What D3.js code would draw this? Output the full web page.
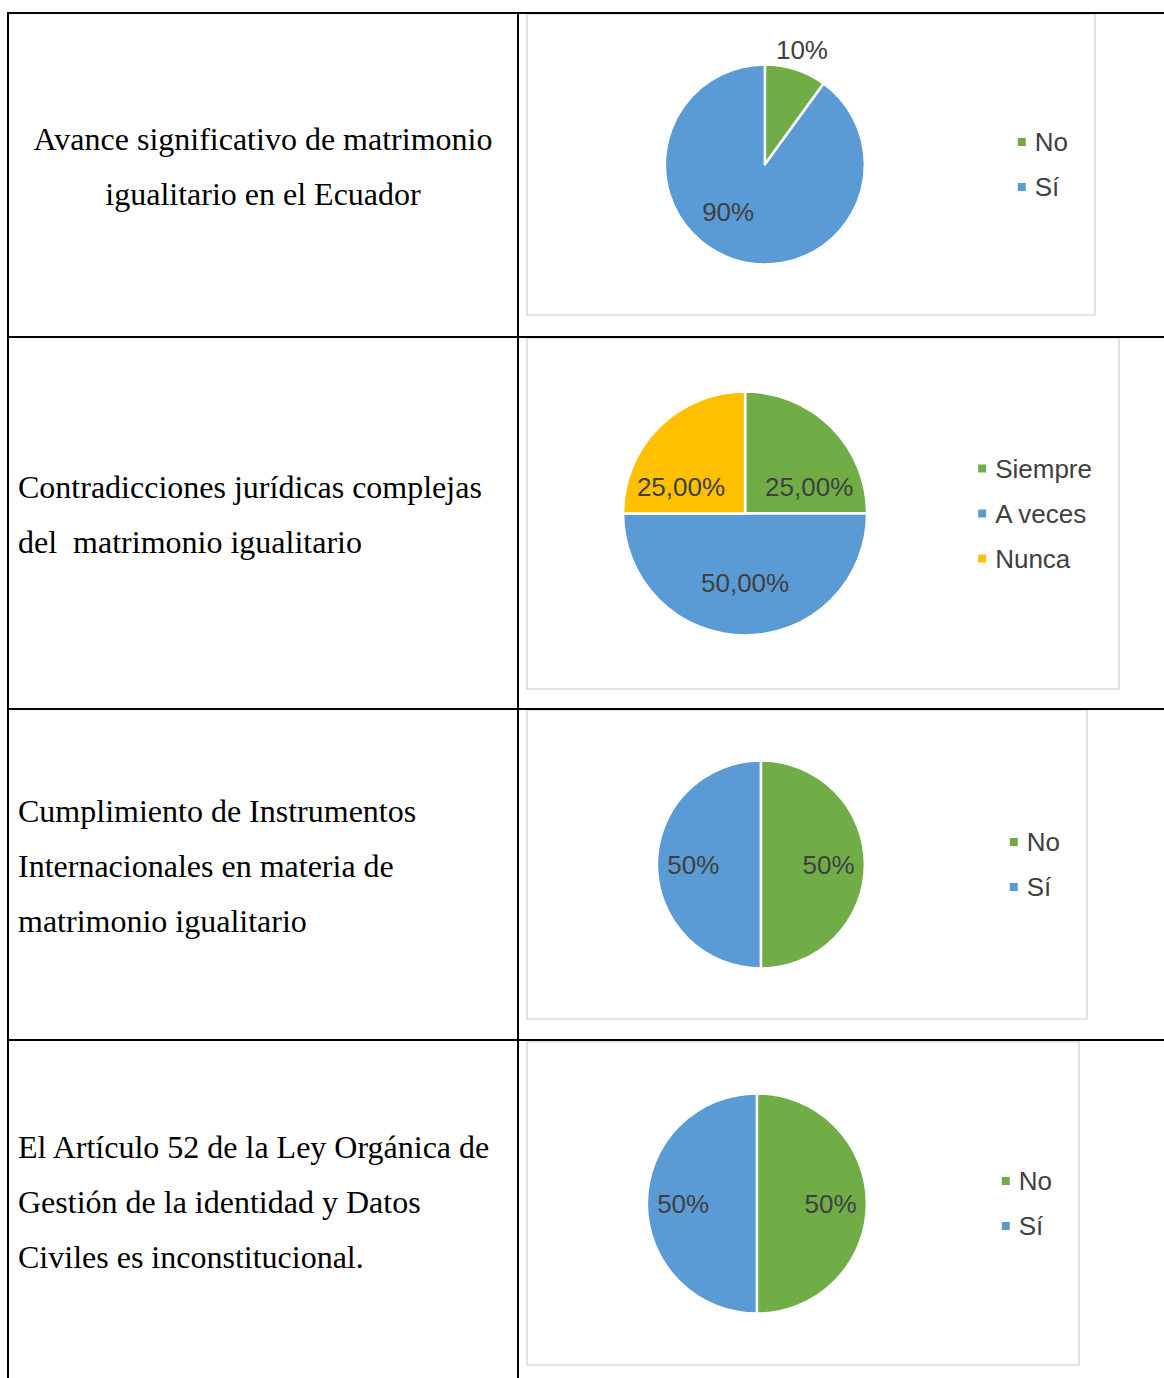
<!DOCTYPE html>
<html>
<head>
<meta charset="utf-8">
<script src="https://cdn.jsdelivr.net/npm/d3@7"></script>
<style>
  body { margin: 0; background: #fff; }
  svg { display: block; }
</style>
</head>
<body>
<div class="js-table"></div>
<script>
(function() {
  'use strict';

  /* ------------------------------------------------------------ *\
      Data: row questions and survey answers
  \* ------------------------------------------------------------ */

  var rowTitles = [
    ['Avance significativo de matrimonio', 'igualitario en el Ecuador'],
    ['Contradicciones jurídicas complejas', 'del  matrimonio igualitario'],
    ['Cumplimiento de Instrumentos', 'Internacionales en materia de', 'matrimonio igualitario'],
    ['El Artículo 52 de la Ley Orgánica de', 'Gestión de la identidad y Datos', 'Civiles es inconstitucional.']
  ];

  var chart1Categories = ['No', 'Sí'];
  var chart1Values = [10, 90];

  var chart2Categories = ['Siempre', 'A veces', 'Nunca'];
  var chart2Values = [25, 50, 25];

  var chart3Categories = ['No', 'Sí'];
  var chart3Values = [50, 50];

  var chart4Categories = ['No', 'Sí'];
  var chart4Values = [50, 50];

  /* ------------------------------------------------------------ *\
      Some colours
  \* ------------------------------------------------------------ */

  var green = '#70ad47';
  var blue = '#5b9bd5';
  var yellow = '#ffc000';
  var labelColour = '#404040';
  var boxColour = '#d9d9d9';

  /* ------------------------------------------------------------ *\
      Table layout
  \* ------------------------------------------------------------ */

  var width = 1164;
  var height = 1378;
  var rowEdges = [13, 337, 709, 1040, 1382];
  var colLeft = 8;
  var colMid = 518;
  var lineHeight = 55;

  var charts = [
    { cats: chart1Categories, vals: chart1Values, colours: [green, blue], decimals: 0,
      box: { x: 527, y: 14, w: 568, h: 301 }, radius: 100, labelR: 0.6 },
    { cats: chart2Categories, vals: chart2Values, colours: [green, blue, yellow], decimals: 2,
      box: { x: 527, y: 338, w: 592, h: 351 }, radius: 122, labelR: 0.57 },
    { cats: chart3Categories, vals: chart3Values, colours: [green, blue], decimals: 0,
      box: { x: 527, y: 710, w: 560, h: 309 }, radius: 104, labelR: 0.65 },
    { cats: chart4Categories, vals: chart4Values, colours: [green, blue], decimals: 0,
      box: { x: 527, y: 1042, w: 552, h: 323 }, radius: 110, labelR: 0.67 }
  ];

  var svg = d3.select('.js-table')
    .append('svg')
    .attr('width', width)
    .attr('height', height);

  /* ------------------------------------------------------------ *\
      Left column text
  \* ------------------------------------------------------------ */

  rowTitles.forEach(function(lines, i) {
    var centerY = (rowEdges[i] + rowEdges[i + 1]) / 2 + 2;
    var centred = i === 0;
    var text = svg.append('text')
      .attr('font-family', '"Liberation Serif", "Times New Roman", serif')
      .attr('font-size', 32)
      .attr('fill', '#000')
      .attr('text-anchor', centred ? 'middle' : 'start')
      .style('white-space', 'pre');

    lines.forEach(function(line, j) {
      text.append('tspan')
        .attr('x', centred ? (colLeft + colMid) / 2 : 18)
        .attr('y', centerY + (j - (lines.length - 1) / 2) * lineHeight)
        .text(line);
    });
  });

  /* ------------------------------------------------------------ *\
      Charts
  \* ------------------------------------------------------------ */

  charts.forEach(drawChart);

  /* ------------------------------------------------------------ *\
      Table grid lines
  \* ------------------------------------------------------------ */

  rowEdges.slice(0, 4).forEach(function(y) {
    svg.append('line')
      .attr('x1', colLeft - 1)
      .attr('x2', width)
      .attr('y1', y)
      .attr('y2', y)
      .attr('stroke', '#000')
      .attr('stroke-width', 2);
  });

  [colLeft, colMid].forEach(function(x) {
    svg.append('line')
      .attr('x1', x)
      .attr('x2', x)
      .attr('y1', rowEdges[0] - 1)
      .attr('y2', height)
      .attr('stroke', '#000')
      .attr('stroke-width', 2);
  });

  /* ------------------------------------------------------------ *\
      Helper functions
  \* ------------------------------------------------------------ */

  function formatPct(v, decimals) {
    return v.toFixed(decimals).replace('.', ',') + '%';
  }

  function drawChart(c) {
    var g = svg.append('g');
    var fontFamily = '"Liberation Sans", Arial, sans-serif';
    var fontSize = 26;

    g.append('rect')
      .attr('x', c.box.x)
      .attr('y', c.box.y)
      .attr('width', c.box.w)
      .attr('height', c.box.h)
      .attr('fill', '#fff')
      .attr('stroke', boxColour)
      .attr('stroke-width', 1.5);

    var colour = d3.scaleOrdinal().domain(c.cats).range(c.colours);

    // legend, right aligned inside the box
    var legend = g.append('g');
    var rowGap = 45;
    var centerY = c.box.y + c.box.h / 2;
    var items = legend.selectAll('g')
      .data(c.cats)
      .enter()
      .append('g')
      .attr('transform', function(d, i) {
        return 'translate(0,' + (centerY + (i - (c.cats.length - 1) / 2) * rowGap) + ')';
      });

    items.append('rect')
      .attr('x', 0)
      .attr('y', -4)
      .attr('width', 8)
      .attr('height', 8)
      .attr('fill', function(d) { return colour(d); });

    items.append('text')
      .attr('x', 17)
      .attr('dy', '0.35em')
      .attr('font-family', fontFamily)
      .attr('font-size', fontSize)
      .attr('fill', labelColour)
      .text(function(d) { return d; });

    var maxText = 0;
    items.selectAll('text').each(function() {
      maxText = Math.max(maxText, this.getComputedTextLength());
    });
    var legendLeft = c.box.x + c.box.w - 27 - (17 + maxText);
    legend.attr('transform', 'translate(' + legendLeft + ',0)');

    // pie
    var cx = (c.box.x + legendLeft) / 2 - 7.5;
    var cy = centerY;
    var total = d3.sum(c.vals);

    var pie = d3.pie().sort(null).value(function(d) { return d.value; });
    var arcs = pie(c.cats.map(function(cat, i) {
      return { cat: cat, value: c.vals[i] };
    }));

    var arc = d3.arc().innerRadius(0).outerRadius(c.radius);

    var pieG = g.append('g').attr('transform', 'translate(' + cx + ',' + cy + ')');

    pieG.selectAll('path')
      .data(arcs)
      .enter()
      .append('path')
      .attr('d', arc)
      .attr('fill', function(d) { return colour(d.data.cat); })
      .attr('stroke', '#fff')
      .attr('stroke-width', 2.5)
      .attr('stroke-linejoin', 'round');

    pieG.selectAll('text')
      .data(arcs)
      .enter()
      .append('text')
      .attr('transform', function(d) {
        var a = (d.startAngle + d.endAngle) / 2;
        var sx = Math.sin(a);
        var sy = -Math.cos(a);
        var r;
        if (d.data.value / total < 0.15) {
          r = c.radius * 1.2;
        } else {
          sy = sy * 0.42;
          var n = Math.sqrt(sx * sx + sy * sy);
          sx = sx / n;
          sy = sy / n;
          r = c.radius * c.labelR;
        }
        return 'translate(' + (sx * r) + ',' + (sy * r) + ')';
      })
      .attr('text-anchor', 'middle')
      .attr('dy', '0.35em')
      .attr('font-family', fontFamily)
      .attr('font-size', fontSize)
      .attr('fill', labelColour)
      .text(function(d) { return formatPct(d.data.value, c.decimals); });
  }
})();
</script>
</body>
</html>
